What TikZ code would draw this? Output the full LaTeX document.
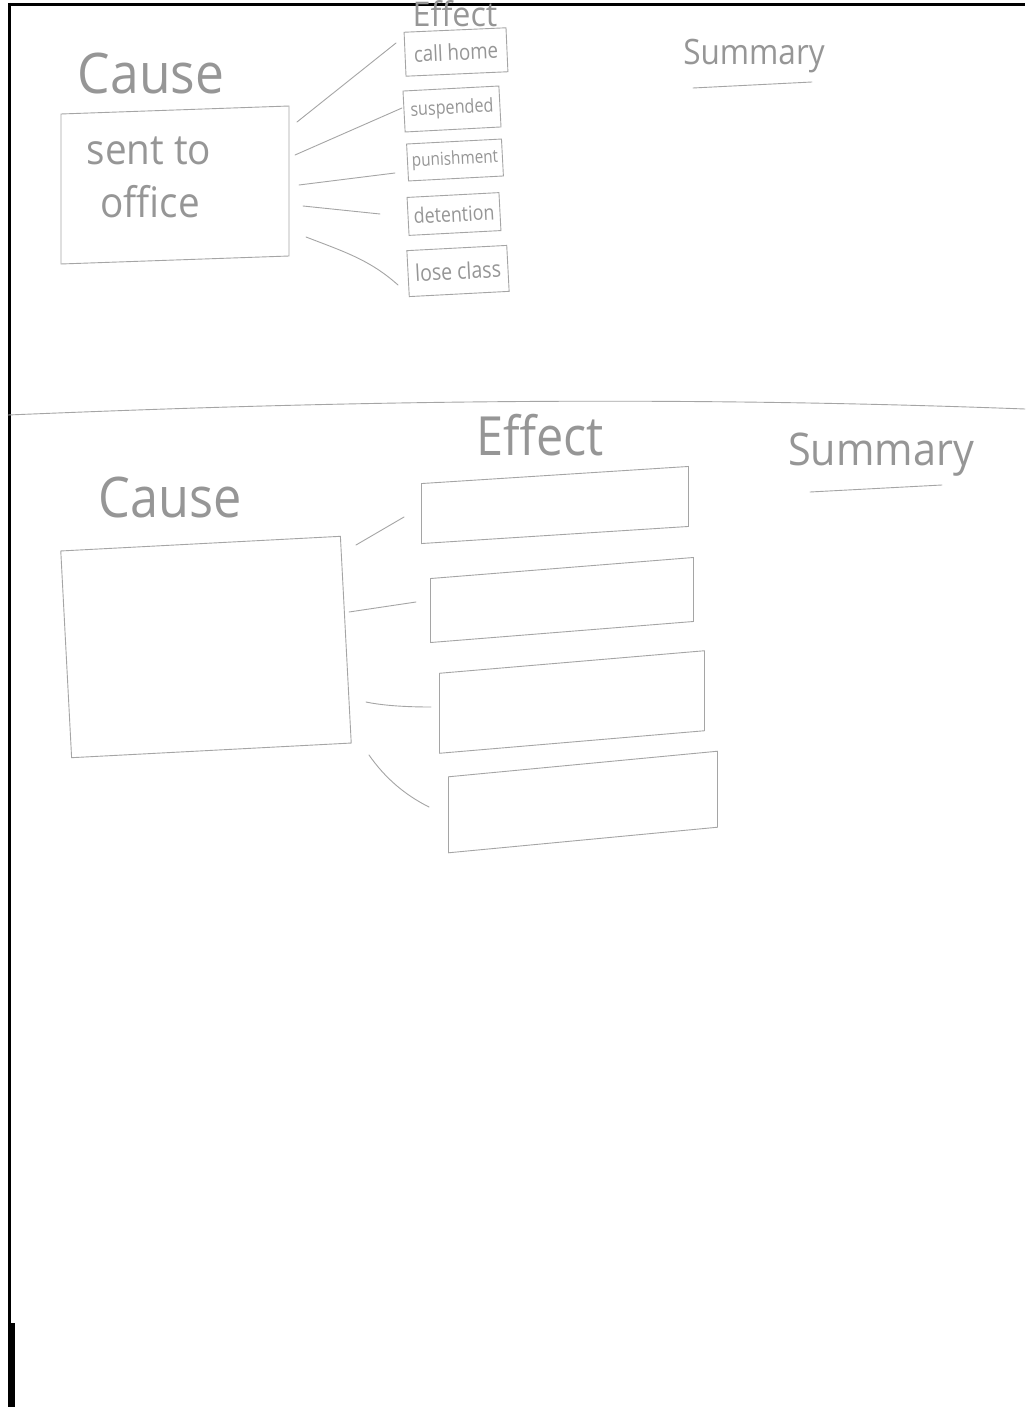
\documentclass[tikz,border=0pt]{standalone}
\usepackage{fontspec}
\setmainfont{Open Sans}
\definecolor{pencil}{RGB}{165,165,165}
\definecolor{ink}{RGB}{150,150,150}
\newcommand{\fsz}[1]{\fontsize{#1}{#1}\selectfont}
\newcommand{\hw}[3]{\scalebox{#2}[1]{\fsz{#1}#3}}
\tikzset{
  pline/.style={draw=pencil, line width=0.9pt, line cap=round},
  hand/.style={text=ink, inner sep=0pt, anchor=base},
  handbox/.style={draw=pencil, line width=0.9pt, text=ink, inner sep=0pt},
}
\begin{document}
\begin{tikzpicture}[x=1pt,y=-1pt]
\useasboundingbox (0,0) rectangle (1025,1407);
\fill[white] (0,0) rectangle (1025,1407);
% scan border
\draw[line width=3pt] (8,4.5) -- (1025,4.5);
\draw[line width=2.5pt] (9.5,3) -- (9.5,1407);
\fill (8,1323) rectangle (15,1407);

% ---------- upper sheet ----------
\node[hand] (cause1lbl) at (151,94) {\hw{56}{0.92}{Cause}};
\node[handbox, minimum width=228pt, minimum height=150pt, yslant=0.035] (cause1) at (175,185) {};
\node[hand] (cause1txt) at (149,165) {\hw{42}{0.92}{sent to}};
\node[hand] (cause1txtb) at (150,218) {\hw{42}{0.92}{office}};

\node[hand] (effect1lbl) at (455,27) {\hw{34}{0.95}{Effect}};
\node[handbox, minimum width=102pt, minimum height=44pt, rotate=2.5] (e11) at (456,52) {\hw{22}{0.85}{call home}};
\node[handbox, minimum width=96pt, minimum height=41pt, rotate=3] (e12) at (452,109) {\hw{19}{0.85}{suspended}};
\node[handbox, minimum width=95pt, minimum height=37pt, rotate=3] (e13) at (455,160) {\hw{18}{0.85}{punishment}};
\node[handbox, minimum width=92pt, minimum height=38pt, rotate=3] (e14) at (454,214) {\hw{21}{0.85}{detention}};
\node[handbox, minimum width=100pt, minimum height=46pt, rotate=3] (e15) at (458,271) {\hw{23}{0.85}{lose class}};

\node[hand] (summary1) at (754,65) {\hw{35}{0.9}{Summary}};
\coordinate (u1a) at (693,88);
\coordinate (u1b) at (812,82);
\draw[pline] (u1a) -- (u1b);

\coordinate (t1a) at (297,122); \coordinate (t1b) at (396,43);
\coordinate (t2a) at (295,155); \coordinate (t2b) at (402,108);
\coordinate (t3a) at (299,185); \coordinate (t3b) at (395,173);
\coordinate (t4a) at (303,206); \coordinate (t4b) at (380,214);
\coordinate (t5a) at (306,237); \coordinate (t5b) at (398,285);
\draw[pline] (t1a) -- (t1b);
\draw[pline] (t2a) -- (t2b);
\draw[pline] (t3a) -- (t3b);
\draw[pline] (t4a) -- (t4b);
\draw[pline] (t5a) .. controls (345,252) and (370,260) .. (t5b);

% divider
\draw[pline] (8,415) .. controls (250,405) and (600,393) .. (1025,409);

% ---------- lower sheet ----------
\node[hand] (effect2lbl) at (540,455) {\hw{54}{0.9}{Effect}};
\node[hand] (summary2) at (881,465) {\hw{45}{0.92}{Summary}};
\coordinate (u2a) at (810,492);
\coordinate (u2b) at (942,485);
\draw[pline] (u2a) -- (u2b);
\node[hand] (cause2lbl) at (170,517) {\hw{56}{0.9}{Cause}};

\node[handbox, minimum width=280pt, minimum height=207pt, rotate=3] (cause2) at (206,647) {};
\node[handbox, minimum width=267pt, minimum height=60pt, yslant=0.064] (e21) at (555,505) {};
\node[handbox, minimum width=263pt, minimum height=64pt, yslant=0.08] (e22) at (562,600) {};
\node[handbox, minimum width=265pt, minimum height=80pt, yslant=0.085] (e23) at (572,702) {};
\node[handbox, minimum width=269pt, minimum height=76pt, yslant=0.095] (e24) at (583,802) {};

\coordinate (b1a) at (356,545); \coordinate (b1b) at (404,517);
\coordinate (b2a) at (349,612); \coordinate (b2b) at (416,602);
\coordinate (b3a) at (366,702); \coordinate (b3b) at (431,707);
\coordinate (b4a) at (369,755); \coordinate (b4b) at (429,807);
\draw[pline] (b1a) -- (b1b);
\draw[pline] (b2a) -- (b2b);
\draw[pline] (b3a) .. controls (385,706) and (410,707) .. (b3b);
\draw[pline] (b4a) .. controls (385,778) and (405,795) .. (b4b);
\end{tikzpicture}
\end{document}
